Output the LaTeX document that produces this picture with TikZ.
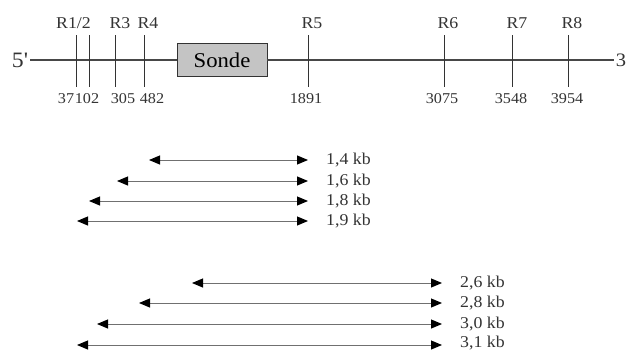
\documentclass[tikz,border=0pt]{standalone}
\usepackage{fontspec}
\setmainfont{Liberation Serif}[FakeStretch=1.08]
\newfontfamily\plainserif{Liberation Serif}[FakeStretch=1.08]
\usetikzlibrary{arrows.meta}
\definecolor{ink}{HTML}{333333}
\definecolor{probefill}{HTML}{C4C4C4}
\tikzset{
  strand/.style={line width=1.2pt,draw=ink!90},
  site/.style={line width=0.9pt,draw=ink},
  probe/.style={draw=ink,line width=0.9pt,fill=probefill,minimum width=90pt,minimum height=33pt,inner sep=0pt,font=\fontsize{21}{21}\selectfont},
  frag/.style={<->,line width=1pt,draw=ink!70},
  kb/.style={anchor=west,inner sep=0pt,text=ink}
}
\begin{document}
\begin{tikzpicture}[x=1pt,y=-1pt,>={Triangle[length=11pt,width=9pt,color=black]},
  font=\fontsize{16.5}{16.5}\selectfont]
  \useasboundingbox (0,0) rectangle (629,351);
  %% DNA strand with the probe
  \node[inner sep=2pt,text=ink,font=\plainserif\fontsize{22}{22}\selectfont] (five) at (20,60) {5'};
  \node[inner sep=2pt,text=ink,font=\fontsize{19}{19}\selectfont] (three) at (621,60) {3};
  \node[probe] (sonde) at (222,60) {Sonde};
  \draw[strand] (five) -- (sonde);
  \draw[strand] (sonde) -- (three);
  %% restriction sites -- format: {index}/{x}/{position}/{x of position}
  \foreach \i/\x/\pos/\px in {1/76/37/66, 2/89/102/87, 3/115/305/123, 4/144/482/152,
    5/308/1891/306, 6/444/3075/442, 7/512/3548/511, 8/568/3954/567}{
    \coordinate (top\i) at (\x,35);
    \coordinate (bot\i) at (\x,87);
    \draw[site] (top\i) -- (bot\i);
    \node[anchor=base,inner sep=0pt,text=ink,font=\fontsize{15}{15}\selectfont] (pos\i) at (\px,103) {\pos};
  }
  %% site names
  \foreach \n/\x/\lbl in {r12/73.5/R1\slash 2, r3/120/R3, r4/148/R4, r5/312/R5,
    r6/448/R6, r7/517/R7, r8/572/R8}{
    \node[anchor=base,inner sep=0pt,text=ink] (\n) at (\x,28) {\lbl};
  }
  %% fragments seen from R5
  \foreach \i/\l/\y/\t in {a/149/160/{1,4 kb}, b/117/181/{1,6 kb}, c/89/201/{1,8 kb}, d/77/221/{1,9 kb}}{
    \coordinate (fl\i) at (\l,\y);
    \coordinate (fr\i) at (308,\y);
    \draw[frag] (fl\i) -- (fr\i);
    \node[kb] (kb\i) at (326,\y) {\t};
  }
  %% fragments seen from R6
  \foreach \i/\l/\y/\t/\ty in {e/192/283/{2,6 kb}/283, f/139/303/{2,8 kb}/303, g/97/324/{3,0 kb}/324, h/77/345/{3,1 kb}/343}{
    \coordinate (fl\i) at (\l,\y);
    \coordinate (fr\i) at (442,\y);
    \draw[frag] (fl\i) -- (fr\i);
    \node[kb] (kb\i) at (460,\ty) {\t};
  }
\end{tikzpicture}
\end{document}
